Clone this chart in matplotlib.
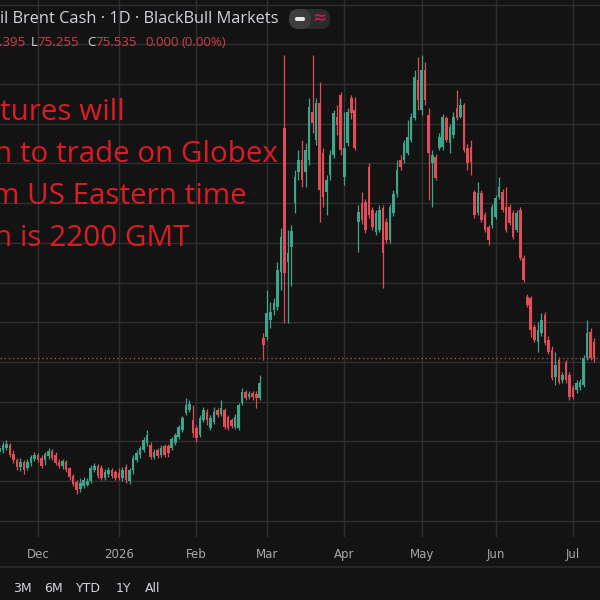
import matplotlib
matplotlib.use("Agg")
import matplotlib.pyplot as plt
import numpy as np
import pandas as pd
from matplotlib.patches import FancyBboxPatch

# ---------------- data ----------------
dates = pd.bdate_range("2025-11-14", periods=170)

opens = [63.7, 63.9, 64.2, 64.5, 63.4, 62.7, 61.8, 62.4, 61.7, 62.3,
         62.8, 63.3, 62.9, 62.7, 63.2, 63.8, 63.3, 62.4, 61.9, 62.4,
         61.7, 60.6, 59.9, 59.0, 59.4, 59.5, 60.0, 61.4, 61.9, 61.7,
         60.4, 60.9, 61.4, 61.1, 61.0, 60.4, 61.8, 60.0, 61.4, 62.7,
         63.3, 63.9, 64.8, 64.5, 63.0, 63.9, 63.3, 64.4, 64.4, 64.2,
         64.8, 65.6, 66.4, 68.6, 69.0, 67.7, 66.7, 65.8, 67.7, 68.7,
         66.7, 67.4, 69.0, 68.4, 69.0, 68.1, 67.7, 66.8, 66.7, 69.8,
         71.2, 70.6, 71.1, 71.0, 70.5, 78.0, 78.1, 80.3, 81.5, 81.9,
         86.3, 104.5, 87.6, 89.5, 95.0, 98.9, 100.4, 98.9, 100.4, 106.5,
         103.0, 107.6, 101.3, 96.4, 98.6, 101.1, 105.9, 108.6, 98.3, 102.6,
         108.2, 106.7, 92.6, 95.0, 95.2, 99.6, 94.1, 91.4, 91.6, 94.4,
         92.6, 90.4, 93.8, 96.1, 100.4, 100.4, 101.3, 103.0, 105.7, 110.5,
         106.7, 111.8, 106.1, 100.1, 100.8, 102.0, 102.1, 105.7, 102.6, 103.6,
         107.0, 105.9, 107.4, 102.0, 102.1, 96.4, 93.8, 96.3, 93.5, 92.0,
         92.3, 93.3, 95.8, 96.4, 94.5, 94.5, 93.8, 91.6, 94.1, 88.1,
         83.2, 83.1, 79.4, 77.5, 78.6, 80.9, 77.8, 76.5, 73.1, 75.2,
         72.7, 74.9, 73.4, 71.7, 71.5, 71.8, 72.1, 75.5, 78.8, 77.5]

highs = [64.7, 64.9, 65.2, 64.8, 63.9, 62.9, 62.9, 62.7, 62.8, 63.3,
         63.7, 63.5, 63.3, 63.7, 64.2, 64.0, 63.7, 62.8, 62.8, 62.7,
         61.8, 60.9, 60.1, 60.4, 60.5, 60.4, 62.0, 62.3, 62.2, 62.0,
         61.5, 61.8, 61.7, 61.4, 61.7, 61.8, 62.2, 61.7, 63.3, 63.9,
         64.4, 65.6, 66.4, 64.9, 64.0, 64.2, 64.5, 64.7, 64.7, 65.6,
         66.1, 67.1, 68.2, 70.5, 70.2, 69.6, 67.1, 68.3, 69.3, 69.1,
         68.3, 69.3, 69.2, 70.2, 69.2, 68.3, 68.0, 68.5, 69.8, 71.7,
         71.5, 71.3, 71.3, 71.3, 73.4, 78.6, 84.1, 82.6, 83.1, 87.6,
         91.9, 113.7, 91.6, 92.3, 99.2, 101.7, 103.0, 102.6, 108.2, 113.7,
         108.2, 110.3, 102.0, 98.6, 101.7, 106.7, 107.4, 109.0, 106.5, 107.0,
         108.6, 108.4, 94.8, 96.4, 95.5, 100.1, 94.5, 94.1, 94.8, 94.8,
         93.1, 94.9, 96.7, 100.4, 101.1, 103.0, 105.5, 106.4, 111.8, 113.4,
         113.7, 112.8, 107.0, 101.7, 101.2, 103.8, 106.2, 106.0, 105.0, 106.5,
         109.2, 108.2, 107.6, 102.4, 103.0, 96.7, 97.7, 96.7, 93.9, 92.3,
         94.9, 96.0, 98.3, 96.8, 97.0, 94.9, 94.1, 94.1, 94.5, 88.5,
         83.6, 83.3, 79.8, 80.0, 81.2, 81.3, 78.3, 77.0, 76.3, 75.6,
         73.7, 75.2, 73.7, 72.1, 72.7, 72.8, 75.9, 80.3, 79.3, 78.0]

lows = [63.3, 63.5, 63.9, 63.0, 62.3, 61.4, 61.3, 60.9, 61.4, 61.9,
        62.5, 62.4, 61.7, 62.0, 62.8, 62.7, 62.0, 61.7, 61.5, 61.1,
        60.2, 59.4, 58.4, 58.6, 59.1, 59.4, 59.8, 61.1, 60.4, 60.1,
        60.1, 60.5, 60.4, 60.1, 60.1, 60.0, 59.7, 59.6, 60.9, 62.4,
        62.9, 63.7, 64.4, 62.8, 62.8, 62.9, 63.0, 63.0, 63.0, 63.9,
        64.5, 65.3, 66.2, 68.3, 68.7, 65.6, 64.9, 65.6, 67.4, 67.1,
        66.4, 67.2, 68.1, 68.2, 66.6, 66.4, 66.7, 66.6, 66.4, 69.6,
        70.2, 70.3, 70.2, 69.2, 70.2, 75.2, 77.8, 79.3, 80.9, 81.5,
        84.1, 79.9, 79.9, 84.6, 93.8, 97.9, 97.0, 97.0, 99.8, 103.8,
        102.3, 92.6, 94.5, 93.5, 97.9, 100.7, 103.6, 101.1, 97.3, 102.2,
        105.6, 101.7, 88.8, 92.4, 91.2, 93.1, 91.6, 91.0, 91.4, 84.3,
        90.0, 90.0, 93.4, 95.8, 99.2, 100.1, 101.1, 102.7, 105.5, 106.7,
        106.1, 107.4, 95.4, 94.5, 97.9, 101.7, 101.7, 102.7, 101.3, 103.2,
        105.5, 105.7, 101.4, 99.2, 98.6, 93.1, 93.5, 92.6, 91.4, 89.7,
        91.9, 93.0, 95.5, 93.9, 91.4, 92.3, 90.5, 91.4, 87.8, 85.1,
        81.9, 78.2, 77.5, 76.2, 78.3, 77.1, 76.0, 72.7, 72.1, 72.2,
        72.4, 72.4, 70.2, 70.3, 71.1, 71.5, 71.8, 75.2, 75.2, 75.0]

closes = [64.2, 64.5, 64.7, 63.3, 62.7, 61.8, 62.4, 61.4, 62.4, 63.0,
          63.3, 62.7, 61.9, 63.4, 63.8, 62.9, 62.3, 61.9, 62.5, 61.4,
          60.5, 59.6, 58.9, 59.8, 60.1, 60.0, 61.7, 61.9, 60.6, 60.4,
          61.1, 61.4, 60.6, 60.4, 60.4, 61.4, 60.1, 61.4, 62.9, 63.5,
          64.2, 65.2, 65.8, 63.0, 63.7, 63.2, 64.2, 63.3, 63.5, 65.3,
          65.8, 66.8, 68.0, 69.6, 69.7, 66.0, 65.4, 68.0, 69.0, 67.7,
          68.0, 68.7, 68.3, 69.2, 66.8, 66.7, 66.9, 68.1, 69.6, 71.2,
          70.5, 71.0, 70.6, 70.5, 72.4, 77.1, 81.2, 81.3, 82.4, 86.6,
          90.7, 86.2, 88.7, 91.5, 98.3, 100.5, 97.9, 101.7, 107.1, 105.1,
          107.6, 96.7, 95.8, 97.9, 101.1, 106.4, 104.9, 101.7, 102.0, 106.5,
          106.4, 102.0, 93.9, 92.9, 91.6, 93.5, 92.0, 93.8, 94.1, 88.7,
          90.4, 94.5, 96.1, 99.2, 99.6, 102.6, 103.3, 105.9, 110.9, 108.0,
          111.8, 108.0, 101.3, 101.1, 98.2, 103.3, 105.9, 103.0, 104.6, 105.9,
          105.7, 107.4, 101.7, 100.1, 100.2, 93.5, 96.3, 92.9, 91.6, 90.4,
          94.5, 95.7, 97.0, 94.1, 91.6, 92.5, 90.7, 93.8, 88.1, 85.3,
          82.2, 79.0, 77.8, 79.0, 80.3, 77.4, 76.3, 73.0, 74.6, 72.5,
          73.4, 72.7, 70.6, 70.6, 72.4, 72.5, 75.5, 78.6, 75.5, 75.5]

month_starts = ["2025-12-01", "2026-01-01", "2026-02-02", "2026-03-02",
                "2026-04-01", "2026-05-01", "2026-06-01", "2026-07-01"]
month_labels = ["Dec", "2026", "Feb", "Mar", "Apr", "May", "Jun", "Jul"]
price_grid = list(range(55, 125, 5))
last_price = 75.535

title_text = "il Brent Cash \u00b7 1D \u00b7 BlackBull Markets"
ohlc_parts = [(".395", "red"), ("L", "gray"), ("75.255", "red"), ("C", "gray"),
              ("75.535", "red"), ("0.000", "red"), ("(0.00%)", "red")]
ohlc_left_px = [-1, 31, 37, 87, 95, 145, 181]
note_lines = ["tures will", "n to trade on Globex", "m US Eastern time", "n is 2200 GMT"]
note_left_px = [0, -6, -8, -6]
range_buttons = ["3M", "6M", "YTD", "1Y", "All"]
range_left_px = [13, 44, 76, 116, 145]

# ---------------- style ----------------
BG = "#131313"
GRID = "#2f2f2f"
UP = "#3fa58a"
DOWN = "#e04c58"
TXT = "#d1d4dc"
AXT = "#a8a8a8"
NOTE_RED = "#dc1c24"
OHLC_RED = "#c9414c"

W, H = 600, 600
fig = plt.figure(figsize=(6, 6), dpi=100, facecolor=BG)
ax_bottom_px = 537
ax = fig.add_axes([0, (H - ax_bottom_px) / H, 1, ax_bottom_px / H])
ax.set_facecolor(BG)

n = len(opens)
x = np.arange(n)
o = np.array(opens); h = np.array(highs); l = np.array(lows); c = np.array(closes)
up = c >= o
cols = np.where(up, UP, DOWN)

ax.vlines(x, l, h, colors=cols, linewidth=0.9, zorder=3)
body_bottom = np.minimum(o, c)
body_h = np.maximum(np.abs(c - o), 0.12)
ax.bar(x, body_h, bottom=body_bottom, width=0.74, color=cols, edgecolor=cols,
       linewidth=0, zorder=4)

# axes limits: Dec 1 at 38 px, Jul 1 at 573 px
idx = {d: i for i, d in enumerate(dates)}
tick_idx = [idx[pd.Timestamp(d)] for d in month_starts]
px_per_bar = (573 - 38) / (tick_idx[-1] - tick_idx[0])
left = tick_idx[0] - 38 / px_per_bar
right = left + W / px_per_bar
ax.set_xlim(left, right)
ymax = 75 + 362 / 7.94
ymin = 75 - (ax_bottom_px - 362) / 7.94
ax.set_ylim(ymin, ymax)

ax.set_xticks(tick_idx)
ax.set_xticklabels(month_labels)
ax.set_yticks(price_grid)
ax.set_yticklabels([])
ax.tick_params(axis="x", length=0, pad=8, colors=AXT, labelsize=8.5)
ax.tick_params(axis="y", length=0)
ax.grid(True, color=GRID, linewidth=1, zorder=0)
for s in ax.spines.values():
    s.set_visible(False)

ax.axhline(last_price, color="#b04a4f", linewidth=1, linestyle=(0, (1, 2)), zorder=5)

# separator above range buttons
fig.add_artist(plt.Line2D([0, 1], [(H - 567) / H] * 2, color="#262626", lw=1.5,
                          transform=fig.transFigure))

def fx(px):
    return px / W

def fy(py):
    return (H - py) / H

# header
fig.text(fx(278), fy(19), title_text, ha="right", va="center", color=TXT,
         fontsize=11.8, family="Open Sans")
for (t, kind), lx in zip(ohlc_parts, ohlc_left_px):
    fig.text(fx(lx), fy(42), t, ha="left", va="center",
             color=OHLC_RED if kind == "red" else TXT, fontsize=9.5, family="Open Sans")

# toggle pill
pill = FancyBboxPatch((fx(289), fy(29)), fx(41), 20 / H,
                      boxstyle="round,pad=0,rounding_size=0.016",
                      transform=fig.transFigure, facecolor="#2b2b2b", edgecolor="none")
fig.add_artist(pill)
pill_l = FancyBboxPatch((fx(289), fy(29)), fx(22), 20 / H,
                        boxstyle="round,pad=0,rounding_size=0.016",
                        transform=fig.transFigure, facecolor="#3d3d3d", edgecolor="none")
fig.add_artist(pill_l)
fig.add_artist(FancyBboxPatch((fx(295), fy(21)), fx(10), 4 / H,
                              boxstyle="round,pad=0,rounding_size=0.003",
                              transform=fig.transFigure, facecolor="#e8e8e8",
                              edgecolor="none"))
fig.text(fx(319), fy(18), "\u2248", ha="center", va="center", color="#c2185b",
         fontsize=12, fontweight="bold")

# red annotation (cut at the left edge, as in the source screenshot)
for t, lx, by in zip(note_lines, note_left_px, [120, 162, 204, 246]):
    fig.text(fx(lx), fy(by), t, ha="left", va="baseline", color=NOTE_RED,
             fontsize=21.3, family="Open Sans")

# range buttons
for t, lx in zip(range_buttons, range_left_px):
    fig.text(fx(lx), fy(589), t, ha="left", va="center", color=TXT, fontsize=9,
             family="DejaVu Sans")

fig.savefig("out.png", dpi=100, facecolor=BG)
